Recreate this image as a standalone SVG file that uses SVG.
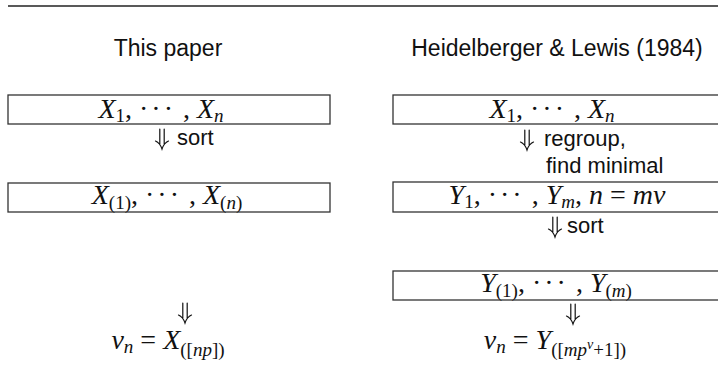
<svg xmlns="http://www.w3.org/2000/svg" width="718" height="386" viewBox="0 0 718 386">
<style>
.box{fill:#fff;stroke:#333;stroke-width:1.3}
.hd{font-family:"Liberation Sans","DejaVu Sans",sans-serif;font-size:23px;fill:#111}
.lb{font-family:"Liberation Sans","DejaVu Sans",sans-serif;font-size:22px;fill:#111}
.m{font-family:"Liberation Serif","DejaVu Serif",serif;font-size:28px;fill:#111}
.i{font-style:italic}
.s{font-size:19px}
.d{letter-spacing:3px}
.arw{fill:none;stroke:#111;stroke-width:1.2;stroke-linecap:round}
</style>
<defs>
<g id="dArrow">
<path class="arw" d="M-2.2,0 V15 M2.2,0 V15 M-6.5,12 Q-2,14 0,20 Q2,14 6.5,12"/>
</g>
</defs>
<line x1="8" y1="6" x2="718" y2="6" stroke="#222" stroke-width="1.4"/>
<g id="headers">
<text class="hd" x="168" y="56" text-anchor="middle">This paper</text>
<text class="hd" x="557" y="56" text-anchor="middle">Heidelberger &amp; Lewis (1984)</text>
</g>
<g id="left-x">
<rect class="box" x="8" y="95" width="322" height="29"/>
<text class="m" x="161" y="118" text-anchor="middle"><tspan class="i">X</tspan><tspan class="s" dy="4">1</tspan><tspan dy="-4">,  </tspan><tspan class="d">···</tspan><tspan> , </tspan><tspan class="i">X</tspan><tspan class="s i" dy="4">n</tspan></text>
</g>
<g id="left-sorted">
<rect class="box" x="8" y="183" width="322" height="29"/>
<text class="m" x="167" y="204" text-anchor="middle"><tspan class="i">X</tspan><tspan class="s" dy="5">(1)</tspan><tspan dy="-5">,  </tspan><tspan class="d">···</tspan><tspan> , </tspan><tspan class="i">X</tspan><tspan class="s" dy="5">(</tspan><tspan class="s i">n</tspan><tspan class="s">)</tspan></text>
</g>
<g id="left-result">
<text class="m" x="168" y="349" text-anchor="middle"><tspan class="i">v</tspan><tspan class="s i" dy="4">n</tspan><tspan dy="-4"> = </tspan><tspan class="i">X</tspan><tspan class="s" dy="7">([</tspan><tspan class="s i">np</tspan><tspan class="s">])</tspan></text>
</g>
<g id="right-x">
<rect class="box" x="393" y="95" width="330" height="29"/>
<text class="m" x="552" y="118" text-anchor="middle"><tspan class="i">X</tspan><tspan class="s" dy="4">1</tspan><tspan dy="-4">,  </tspan><tspan class="d">···</tspan><tspan> , </tspan><tspan class="i">X</tspan><tspan class="s i" dy="4">n</tspan></text>
</g>
<g id="right-y">
<rect class="box" x="393" y="182" width="330" height="30"/>
<text class="m" x="557" y="204" text-anchor="middle"><tspan class="i">Y</tspan><tspan class="s" dy="4">1</tspan><tspan dy="-4">, </tspan><tspan class="d">···</tspan><tspan> , </tspan><tspan class="i">Y</tspan><tspan class="s i" dy="4">m</tspan><tspan dy="-4">, </tspan><tspan class="i">n</tspan><tspan> = </tspan><tspan class="i">mv</tspan></text>
</g>
<g id="right-sorted">
<rect class="box" x="393" y="271" width="330" height="29"/>
<text class="m" x="556" y="292" text-anchor="middle"><tspan class="i">Y</tspan><tspan class="s" dy="5">(1)</tspan><tspan dy="-5">,  </tspan><tspan class="d">···</tspan><tspan> , </tspan><tspan class="i">Y</tspan><tspan class="s" dy="5">(</tspan><tspan class="s i">m</tspan><tspan class="s">)</tspan></text>
</g>
<g id="right-result">
<text class="m" x="555" y="349" text-anchor="middle"><tspan class="i">v</tspan><tspan class="s i" dy="4">n</tspan><tspan dy="-4"> = </tspan><tspan class="i">Y</tspan><tspan class="s" dy="7">([</tspan><tspan class="s i">mp</tspan><tspan class="i" font-size="14" dy="-7">v</tspan><tspan class="s" dy="7">+1])</tspan></text>
</g>
<g id="connectors">
<use href="#dArrow" x="162" y="129"/>
<text class="lb" x="177" y="145">sort</text>
<use href="#dArrow" x="185" y="303"/>
<use href="#dArrow" x="527" y="130"/>
<text class="lb" x="544" y="146">regroup,</text>
<text class="lb" x="546" y="173">find minimal</text>
<use href="#dArrow" x="555" y="217"/>
<text class="lb" x="567" y="233">sort</text>
<use href="#dArrow" x="573" y="304"/>
</g>
</svg>
